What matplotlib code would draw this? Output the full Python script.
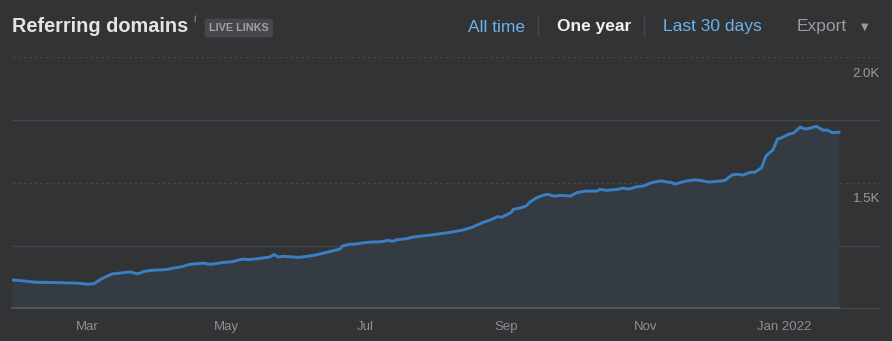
import pandas as pd
import matplotlib
matplotlib.use('Agg')
import matplotlib.pyplot as plt
from matplotlib.transforms import blended_transform_factory

plt.rcParams['font.family'] = ['Liberation Sans', 'DejaVu Sans']

# referring domains, one-year window
dates = [
  '2021-01-27', '2021-02-01', '2021-02-06', '2021-02-17', '2021-02-25', '2021-03-01',
  '2021-03-04', '2021-03-07', '2021-03-10', '2021-03-12', '2021-03-17', '2021-03-20',
  '2021-03-23', '2021-03-26', '2021-03-29', '2021-04-02', '2021-04-05', '2021-04-12',
  '2021-04-15', '2021-04-21', '2021-04-24', '2021-04-30', '2021-05-04', '2021-05-08',
  '2021-05-11', '2021-05-16', '2021-05-20', '2021-05-22', '2021-05-24', '2021-05-26',
  '2021-06-02', '2021-06-08', '2021-06-11', '2021-06-15', '2021-06-20', '2021-06-21',
  '2021-06-24', '2021-06-27', '2021-06-30', '2021-07-04', '2021-07-08', '2021-07-11',
  '2021-07-13', '2021-07-15', '2021-07-19', '2021-07-22', '2021-07-26', '2021-07-29',
  '2021-08-03', '2021-08-07', '2021-08-13', '2021-08-17', '2021-08-22', '2021-08-25',
  '2021-08-28', '2021-08-30', '2021-09-03', '2021-09-04', '2021-09-08', '2021-09-10',
  '2021-09-11', '2021-09-14', '2021-09-17', '2021-09-19', '2021-09-22', '2021-09-25',
  '2021-09-29', '2021-10-02', '2021-10-06', '2021-10-11', '2021-10-12', '2021-10-15',
  '2021-10-20', '2021-10-22', '2021-10-25', '2021-10-28', '2021-10-31', '2021-11-03',
  '2021-11-05', '2021-11-08', '2021-11-11', '2021-11-12', '2021-11-14', '2021-11-16',
  '2021-11-19', '2021-11-23', '2021-11-26', '2021-11-29', '2021-12-04', '2021-12-06',
  '2021-12-09', '2021-12-11', '2021-12-14', '2021-12-17', '2021-12-19', '2021-12-22',
  '2021-12-24', '2021-12-27', '2021-12-29', '2021-12-31', '2022-01-03', '2022-01-05',
  '2022-01-08', '2022-01-10', '2022-01-12', '2022-01-15', '2022-01-18', '2022-01-20',
  '2022-01-22', '2022-01-25',
]
domains = [
  1113, 1109, 1104, 1102, 1100, 1096,
  1098, 1116, 1129, 1137, 1142, 1145,
  1137, 1147, 1151, 1153, 1155, 1167,
  1175, 1180, 1175, 1183, 1186, 1196,
  1194, 1199, 1204, 1214, 1204, 1207,
  1203, 1210, 1216, 1225, 1236, 1248,
  1255, 1256, 1261, 1264, 1265, 1271,
  1267, 1273, 1277, 1284, 1288, 1291,
  1297, 1302, 1312, 1323, 1343, 1352,
  1365, 1363, 1381, 1394, 1402, 1410,
  1421, 1439, 1450, 1454, 1447, 1450,
  1447, 1461, 1467, 1467, 1474, 1470,
  1474, 1479, 1475, 1484, 1487, 1498,
  1503, 1508, 1502, 1503, 1495, 1500,
  1507, 1512, 1508, 1503, 1507, 1510,
  1531, 1534, 1531, 1542, 1542, 1560,
  1608, 1631, 1674, 1680, 1694, 1698,
  1722, 1714, 1717, 1725, 1710, 1710,
  1700, 1701,
]

month_ticks = ['2021-03-01', '2021-05-01', '2021-07-01', '2021-09-01', '2021-11-01', '2022-01-01']
month_labels = ['Mar', 'May', 'Jul', 'Sep', 'Nov', 'Jan 2022']
grid_values = [1250, 1500, 1750, 2000]
labeled_values = [1500, 2000]
value_labels = ['1.5K', '2.0K']

bg = '#323335'
line_col = '#3a7ec4'
fill_col = '#343b43'
grid_col = '#46474a'

W, H = 892, 341
fig = plt.figure(figsize=(W / 100, H / 100), dpi=100, facecolor=bg)

def fx(px):
  return px / W

def fy(py):
  return 1 - py / H

ax = fig.add_axes([fx(12), fy(308.3), fx(880) - fx(12), fy(57.3) - fy(308.3)])
ax.set_facecolor(bg)

x = pd.to_datetime(dates)
x_end = pd.Timestamp('2022-02-12')
ax.set_xlim(pd.Timestamp('2021-01-27'), x_end)
ax.set_ylim(1000, 2000)

# grid lines across the full width
for v in grid_values:
  ls = (0, (2, 2)) if v in labeled_values else '-'
  ax.axhline(v, color=grid_col, lw=1, ls=ls, zorder=1)

ax.fill_between(x, domains, 1000, color=fill_col, lw=0, zorder=2)
ax.plot(x, domains, color=line_col, lw=2.1, solid_joinstyle='round', zorder=3)

# baseline: solid under the data, dotted past it
ax.plot([x[0], x[-1]], [1000, 1000], color='#5a5b5e', lw=1.2, zorder=4, clip_on=False)
ax.plot([x[-1], x_end], [1000, 1000], color='#5a5b5e', lw=1,
        ls=(0, (1, 1)), zorder=4, clip_on=False)

for s in ax.spines.values():
  s.set_visible(False)
ax.set_yticks([])
ax.set_xticks(pd.to_datetime(month_ticks))
ax.set_xticklabels(month_labels)
ax.tick_params(axis='x', direction='in', length=7, width=0.8, color='#5a5b5e',
               labelcolor='#8e8f92', labelsize=9.5, pad=9)

# value labels sit just under their grid line, flush right
trans = blended_transform_factory(ax.transAxes, ax.transData)
for v, lab in zip(labeled_values, value_labels):
  ax.text(1.0, v - 66, lab, transform=trans, ha='right', va='center', color='#9a9b9e',
          fontsize=9.5)

# header
fig.text(fx(12), fy(26), 'Referring domains', color='#e4e4e4', fontsize=14.3,
         fontweight='bold', va='center', ha='left')
fig.text(fx(193), fy(19), 'i', color='#9a9b9e', fontsize=7.5, va='center', ha='left')
fig.text(fx(209), fy(28), 'LIVE LINKS', color='#a0a1a4', fontsize=7.8, fontweight='bold',
         va='center', ha='left',
         bbox=dict(boxstyle='round,pad=0.4,rounding_size=0.3', fc='#46474a', ec='none'))

fig.text(fx(468), fy(27), 'All time', color='#6cb2ea', fontsize=12.5, va='center', ha='left')
fig.text(fx(557), fy(27), 'One year', color='#f0f0f0', fontsize=12.5, fontweight='bold',
         va='center', ha='left')
fig.text(fx(663), fy(27), 'Last 30 days', color='#6cb2ea', fontsize=12.5, va='center',
         ha='left')
fig.text(fx(797), fy(27), 'Export', color='#9a9b9e', fontsize=12.5, va='center', ha='left')
fig.text(fx(865), fy(27), '\u25bc', color='#9a9b9e', fontsize=7, va='center', ha='center',
         family='DejaVu Sans')

for sx in [538, 644]:
  fig.add_artist(plt.Line2D([fx(sx), fx(sx)], [fy(16), fy(36)], color='#46474a', lw=1))

fig.savefig('out.png', dpi=100, facecolor=bg)
